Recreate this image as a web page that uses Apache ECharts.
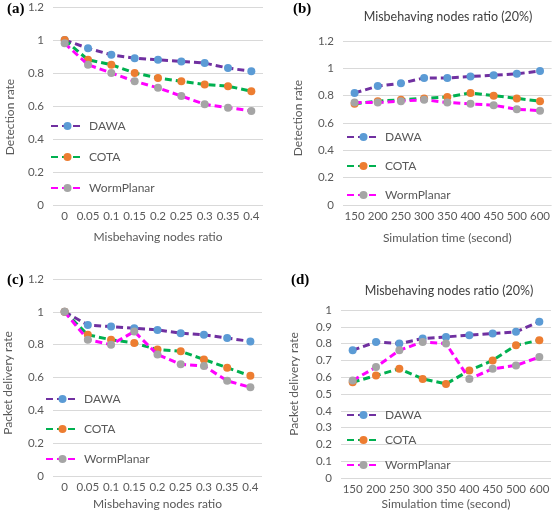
<!DOCTYPE html>
<html><head><meta charset="utf-8">
<script src="https://cdn.jsdelivr.net/npm/echarts@6/dist/echarts.min.js"></script>
<style>html,body{margin:0;padding:0;background:#fff}#c{width:553px;height:512px}</style>
</head><body><div id="c"></div>
<script>
var ratioCats = ['0','0.05','0.1','0.15','0.2','0.25','0.3','0.35','0.4'];
var timeCats = ['150','200','250','300','350','400','450','500','600'];
var seriesNames = ['DAWA','COTA','WormPlanar'];

var aDAWA = [1.00,0.95,0.91,0.89,0.88,0.87,0.86,0.83,0.81];
var aCOTA = [1.00,0.88,0.85,0.80,0.77,0.75,0.73,0.72,0.69];
var aWorm = [0.98,0.85,0.80,0.75,0.71,0.66,0.61,0.59,0.57];

var bDAWA = [0.82,0.87,0.89,0.93,0.93,0.94,0.95,0.96,0.98];
var bCOTA = [0.74,0.76,0.77,0.78,0.79,0.82,0.80,0.78,0.76];
var bWorm = [0.75,0.75,0.76,0.77,0.75,0.74,0.73,0.70,0.69];

var cDAWA = [1.00,0.92,0.91,0.90,0.89,0.87,0.86,0.84,0.82];
var cCOTA = [1.00,0.86,0.83,0.81,0.77,0.76,0.71,0.66,0.61];
var cWorm = [1.00,0.83,0.80,0.88,0.74,0.68,0.67,0.58,0.54];

var dDAWA = [0.76,0.81,0.80,0.83,0.84,0.85,0.86,0.87,0.93];
var dCOTA = [0.57,0.61,0.65,0.59,0.56,0.64,0.70,0.79,0.82];
var dWorm = [0.58,0.66,0.76,0.81,0.80,0.59,0.65,0.67,0.72];

var panelTitle = 'Misbehaving nodes ratio (20%)';
var xNameRatio = 'Misbehaving nodes ratio';
var xNameTime = 'Simulation time (second)';
var yNameDet = 'Detection rate';
var yNamePdr = 'Packet delivery rate';

var lineColors = ['#7030A0','#00B050','#FF00FF'];
var markColors = ['#5B9BD5','#ED7D31','#A5A5A5'];
var FONT = 'Lato';
var TXT = '#595959';

var grids = [
  {left:53, top:7, width:210, height:198},
  {left:343, top:41, width:209, height:164},
  {left:53, top:279, width:209, height:197},
  {left:341, top:310, width:210, height:168}
];
var xCats = [ratioCats, timeCats, ratioCats, timeCats];
var xNames = [xNameRatio, xNameTime, xNameRatio, xNameTime];
var yNames = [yNameDet, yNameDet, yNamePdr, yNamePdr];
var xNameGaps = [26, 27, 22, 20];
var yNameGaps = [37, 39, 39, 41];
var yNamePad = [[0,22,0,0],[0,0,0,10],[0,11,0,0],[0,0,0,20]];
var yMax = [1.2,1.2,1.2,1];
var yInt = [0.2,0.2,0.2,0.1];
var data = [[aDAWA,aCOTA,aWorm],[bDAWA,bCOTA,bWorm],[cDAWA,cCOTA,cWorm],[dDAWA,dCOTA,dWorm]];
var legendPos = [
  {left:45, top:114, gap:17},
  {left:341, top:125, gap:15},
  {left:40, top:387, gap:16},
  {left:341, top:403, gap:11}
];

var xAxes = [], yAxes = [], series = [], legends = [];
for (var i = 0; i < 4; i++) {
  xAxes.push({
    type:'category', gridIndex:i, data:xCats[i], boundaryGap:true,
    name:xNames[i], nameLocation:'middle', nameGap:xNameGaps[i],
    nameTextStyle:{fontFamily:FONT, fontSize:12, color:TXT},
    axisLine:{show:false}, axisTick:{show:false},
    axisLabel:{fontFamily:FONT, fontSize:11.5, color:TXT, margin:5, interval:0}
  });
  yAxes.push({
    type:'value', gridIndex:i, min:0, max:yMax[i], interval:yInt[i],
    name:yNames[i], nameLocation:'middle', nameGap:yNameGaps[i],
    nameTextStyle:{fontFamily:FONT, fontSize:12, color:TXT, padding:yNamePad[i]},
    axisLine:{show:false}, axisTick:{show:false},
    splitLine:{lineStyle:{color:'#D9D9D9', width:1}},
    axisLabel:{fontFamily:FONT, fontSize:11.5, color:TXT, margin:9,
      formatter:function(v){return String(Math.round(v*10)/10);}}
  });
  var names = [];
  for (var s = 0; s < 3; s++) {
    var nm = seriesNames[s];
    names.push(nm);
    series.push({
      type:'line', name:nm, xAxisIndex:i, yAxisIndex:i, data:data[i][s],
      symbol:'circle', symbolSize:8, showAllSymbol:true,
      lineStyle:{color:lineColors[s], width:3, type:[7,4]},
      itemStyle:{color:markColors[s], borderWidth:0},
      emphasis:{disabled:true}, animation:false, z:2+s
    });
  }
  legends.push({
    orient:'vertical', left:legendPos[i].left, top:legendPos[i].top,
    itemGap:legendPos[i].gap, itemWidth:33, itemHeight:10,
    data:names, selectedMode:false,
    textStyle:{fontFamily:FONT, fontSize:12, color:TXT, lineHeight:14, padding:[0,0,0,0]}
  });
}

var chart = echarts.init(document.getElementById('c'), null, {renderer:'canvas'});
chart.setOption({
  animation:false,
  backgroundColor:'#fff',
  grid:grids, xAxis:xAxes, yAxis:yAxes, series:series, legend:legends,
  title:[
    {text:panelTitle, left:443, top:5, textAlign:'center',
     textStyle:{fontFamily:FONT, fontSize:12.5, fontWeight:'normal', color:'#404040'}},
    {text:panelTitle, left:444, top:279, textAlign:'center',
     textStyle:{fontFamily:FONT, fontSize:12.5, fontWeight:'normal', color:'#404040'}}
  ],
  graphic:[
    {type:'text', left:7, top:2, style:{text:'(a)', font:'bold 15px "Liberation Serif"', fill:'#000'}},
    {type:'text', left:293, top:2, style:{text:'(b)', font:'bold 15px "Liberation Serif"', fill:'#000'}},
    {type:'text', left:7, top:273, style:{text:'(c)', font:'bold 15px "Liberation Serif"', fill:'#000'}},
    {type:'text', left:291, top:273, style:{text:'(d)', font:'bold 15px "Liberation Serif"', fill:'#000'}}
  ]
});
</script></body></html>
